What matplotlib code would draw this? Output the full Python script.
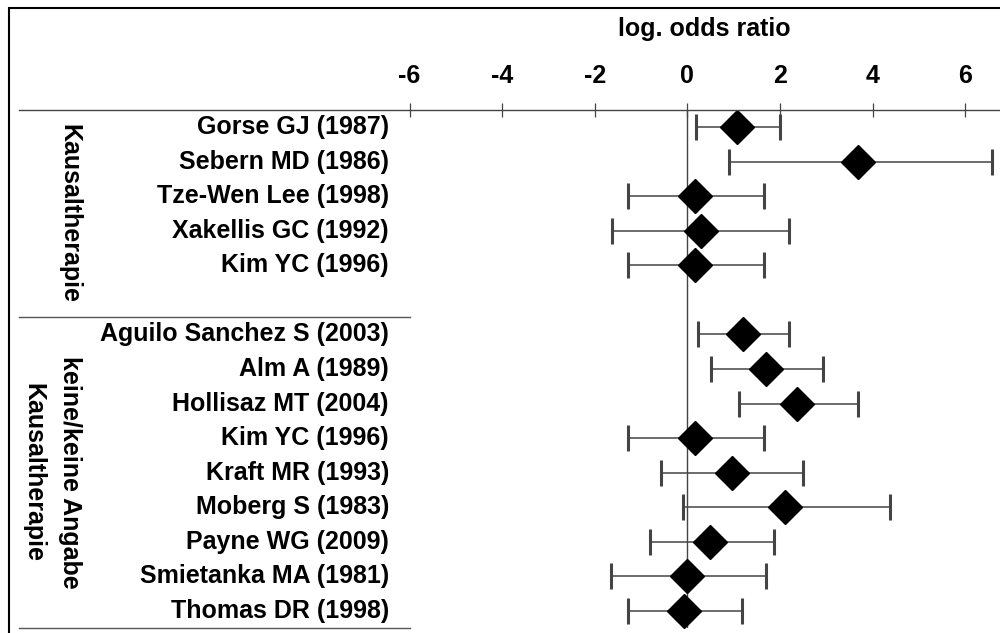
import matplotlib
matplotlib.use("Agg")
import matplotlib.pyplot as plt
import matplotlib.transforms as mtransforms
from matplotlib.lines import Line2D
from matplotlib.patches import Rectangle

plt.rcParams['font.family'] = ['Liberation Sans', 'DejaVu Sans']
plt.rcParams['font.weight'] = 'bold'

# ---- data ----
studies = ["Gorse GJ (1987)", "Sebern MD (1986)", "Tze-Wen Lee (1998)",
           "Xakellis GC (1992)", "Kim YC (1996)",
           "Aguilo Sanchez S (2003)", "Alm A (1989)", "Hollisaz MT (2004)",
           "Kim YC (1996)", "Kraft MR (1993)", "Moberg S (1983)",
           "Payne WG (2009)", "Smietanka MA (1981)", "Thomas DR (1998)"]
row_pos = [0, 1, 2, 3, 4, 6, 7, 8, 9, 10, 11, 12, 13, 14]
log_or = [1.07, 3.69, 0.17, 0.29, 0.17, 1.20, 1.69, 2.38, 0.17, 0.96, 2.10, 0.49, 0.00, -0.08]
ci_low = [0.18, 0.89, -1.27, -1.63, -1.27, 0.24, 0.52, 1.12, -1.27, -0.56, -0.09, -0.80, -1.65, -1.27]
ci_high = [2.00, 6.59, 1.66, 2.20, 1.66, 2.20, 2.93, 3.68, 1.66, 2.49, 4.38, 1.87, 1.69, 1.18]
group_labels = ["Kausaltherapie", "keine/keine Angabe\nKausaltherapie"]
group_bounds = [(0, 6), (6, 15)]
x_ticks = [-6, -4, -2, 0, 2, 4, 6]
x_title = "log. odds ratio"

# ---- figure ----
W, H = 1000, 633
FS = 18
fig = plt.figure(figsize=(W / 100, H / 100), dpi=100)
ax_left, ax_right = 409.5, 1000
ax_top, ax_bot = 110, 628
ax = fig.add_axes([ax_left / W, (H - ax_bot) / H, (ax_right - ax_left) / W, (ax_bot - ax_top) / H])
px_per_unit = 46.3
ax.set_xlim(-6, -6 + (ax_right - ax_left) / px_per_unit)
ax.set_ylim(15, 0)
for s in ax.spines.values():
    s.set_visible(False)
ax.patch.set_visible(False)

y = [r + 0.5 for r in row_pos]
xerr = [[m - lo for m, lo in zip(log_or, ci_low)], [hi - m for m, hi in zip(log_or, ci_high)]]
ax.axvline(0, color='#444444', lw=1.0, zorder=1)
ax.errorbar(log_or, y, xerr=xerr, fmt='D', color='black', ms=17.3,
            ecolor='#444444', elinewidth=1.1, capsize=9.4, capthick=2.2, zorder=3)

# top axis
ax.xaxis.tick_top()
ax.set_xticks(x_ticks)
ax.set_xticklabels([str(t) for t in x_ticks])
ax.tick_params(axis='x', direction='inout', length=10, width=0.9, color='#444444',
               pad=11, labelsize=FS)
ax.set_yticks([])
ax.xaxis.set_label_position('top')
ax.set_xlabel(x_title, fontsize=FS, fontweight='bold', labelpad=20)

blend = mtransforms.blended_transform_factory(fig.transFigure, ax.transData)

# horizontal separators
fig.add_artist(Line2D([19 / W, 1.0], [0, 0], transform=blend, color='#444444', lw=1.0))
for yy in [6, 15]:
    fig.add_artist(Line2D([19 / W, 410 / W], [yy, yy], transform=blend, color='#555555', lw=1.0))

# study labels
for name, yy in zip(studies, y):
    fig.text(389 / W, yy, name, transform=blend, ha='right', va='center',
             fontsize=FS, fontweight='bold')

# group labels
for lab, (a, b) in zip(group_labels, group_bounds):
    xc = 69 if '\n' not in lab else 51.5
    fig.text(xc / W, (a + b) / 2, lab, transform=blend, rotation=-90,
             ha='center', va='center', fontsize=FS, fontweight='bold',
             multialignment='center', linespacing=1.68)

# outer frame
fig.add_artist(Rectangle((8.7 / W, -0.1), 1.2, (1 - 8 / H) + 0.1, transform=fig.transFigure,
                         fill=False, edgecolor='black', lw=1.5))

fig.savefig("out.png", dpi=100)
